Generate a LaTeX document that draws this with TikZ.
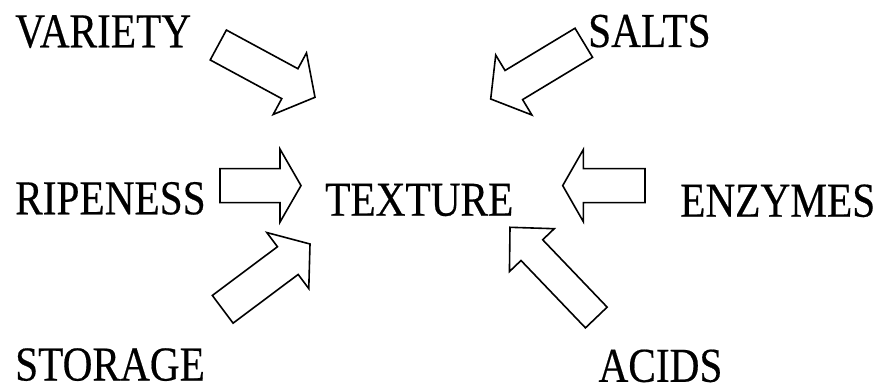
\documentclass[tikz,border=0pt]{standalone}
\usepackage{fontspec}
\setmainfont{Liberation Serif}[FakeBold=0.4]
\usetikzlibrary{calc}

% hollow block arrow: tail, tip, half shaft, half head, head length
\newcommand{\blockarrow}[5]{%
    \coordinate (hb) at ($(#2)!#5pt!(#1)$);
    \draw [blockarr] ($(#1)!#3pt!90:(#2)$) -- ($(hb)!#3pt!90:(#2)$)
        -- ($(hb)!#4pt!90:(#2)$) -- (#2) -- ($(hb)!#4pt!-90:(#2)$)
        -- ($(hb)!#3pt!-90:(#2)$) -- ($(#1)!#3pt!-90:(#2)$) -- cycle;
}
\newcommand{\tallword}[1]{\scalebox{1}[1.18]{#1}}

\begin{document}
\begin{tikzpicture}[
    x=1pt, y=-1pt,
    word/.style={anchor=base west, inner sep=0pt, text depth=0pt,
        font=\fontsize{41.3pt}{45pt}\selectfont},
    blockarr/.style={draw, fill=white, line width=1.6pt, line join=miter}
    ]
    \useasboundingbox (0,0) rectangle (883,387);

    \node [word] (texture) at (325,215.7) {\tallword{TEXTURE}};
    \node [word] (variety) at (15,47.3) {\tallword{VARIETY}};
    \node [word] (salts) at (588,47) {\tallword{SALTS}};
    \node [word] (ripeness) at (15,214.3) {\tallword{RIPENESS}};
    \node [word] (enzymes) at (680,216.7) {\tallword{ENZYMES}};
    \node [word] (storage) at (15,380.5) {\tallword{STORAGE}};
    \node [word] (acids) at (598.3,381.8) {\tallword{ACIDS}};

    % tails and tips of the arrows
    \coordinate (varT) at (218.3,45);    \coordinate (varH) at (315,97.3);
    \coordinate (salT) at (583.8,42.8);  \coordinate (salH) at (490.7,99);
    \coordinate (ripT) at (220,185.6);   \coordinate (ripH) at (301,185.6);
    \coordinate (enzT) at (645,185.6);   \coordinate (enzH) at (562.7,185.6);
    \coordinate (stoT) at (222.7,309.3); \coordinate (stoH) at (310,244);
    \coordinate (aciT) at (596.3,317.5); \coordinate (aciH) at (510,227.3);

    \blockarrow{varT}{varH}{17}{35}{28.6}
    \blockarrow{salT}{salH}{17}{35}{27}
    \blockarrow{ripT}{ripH}{17}{36.5}{21}
    \blockarrow{enzT}{enzH}{17}{36}{20.6}
    \blockarrow{stoT}{stoH}{17.3}{35}{27.7}
    \blockarrow{aciT}{aciH}{15}{31}{31.6}
\end{tikzpicture}
\end{document}
